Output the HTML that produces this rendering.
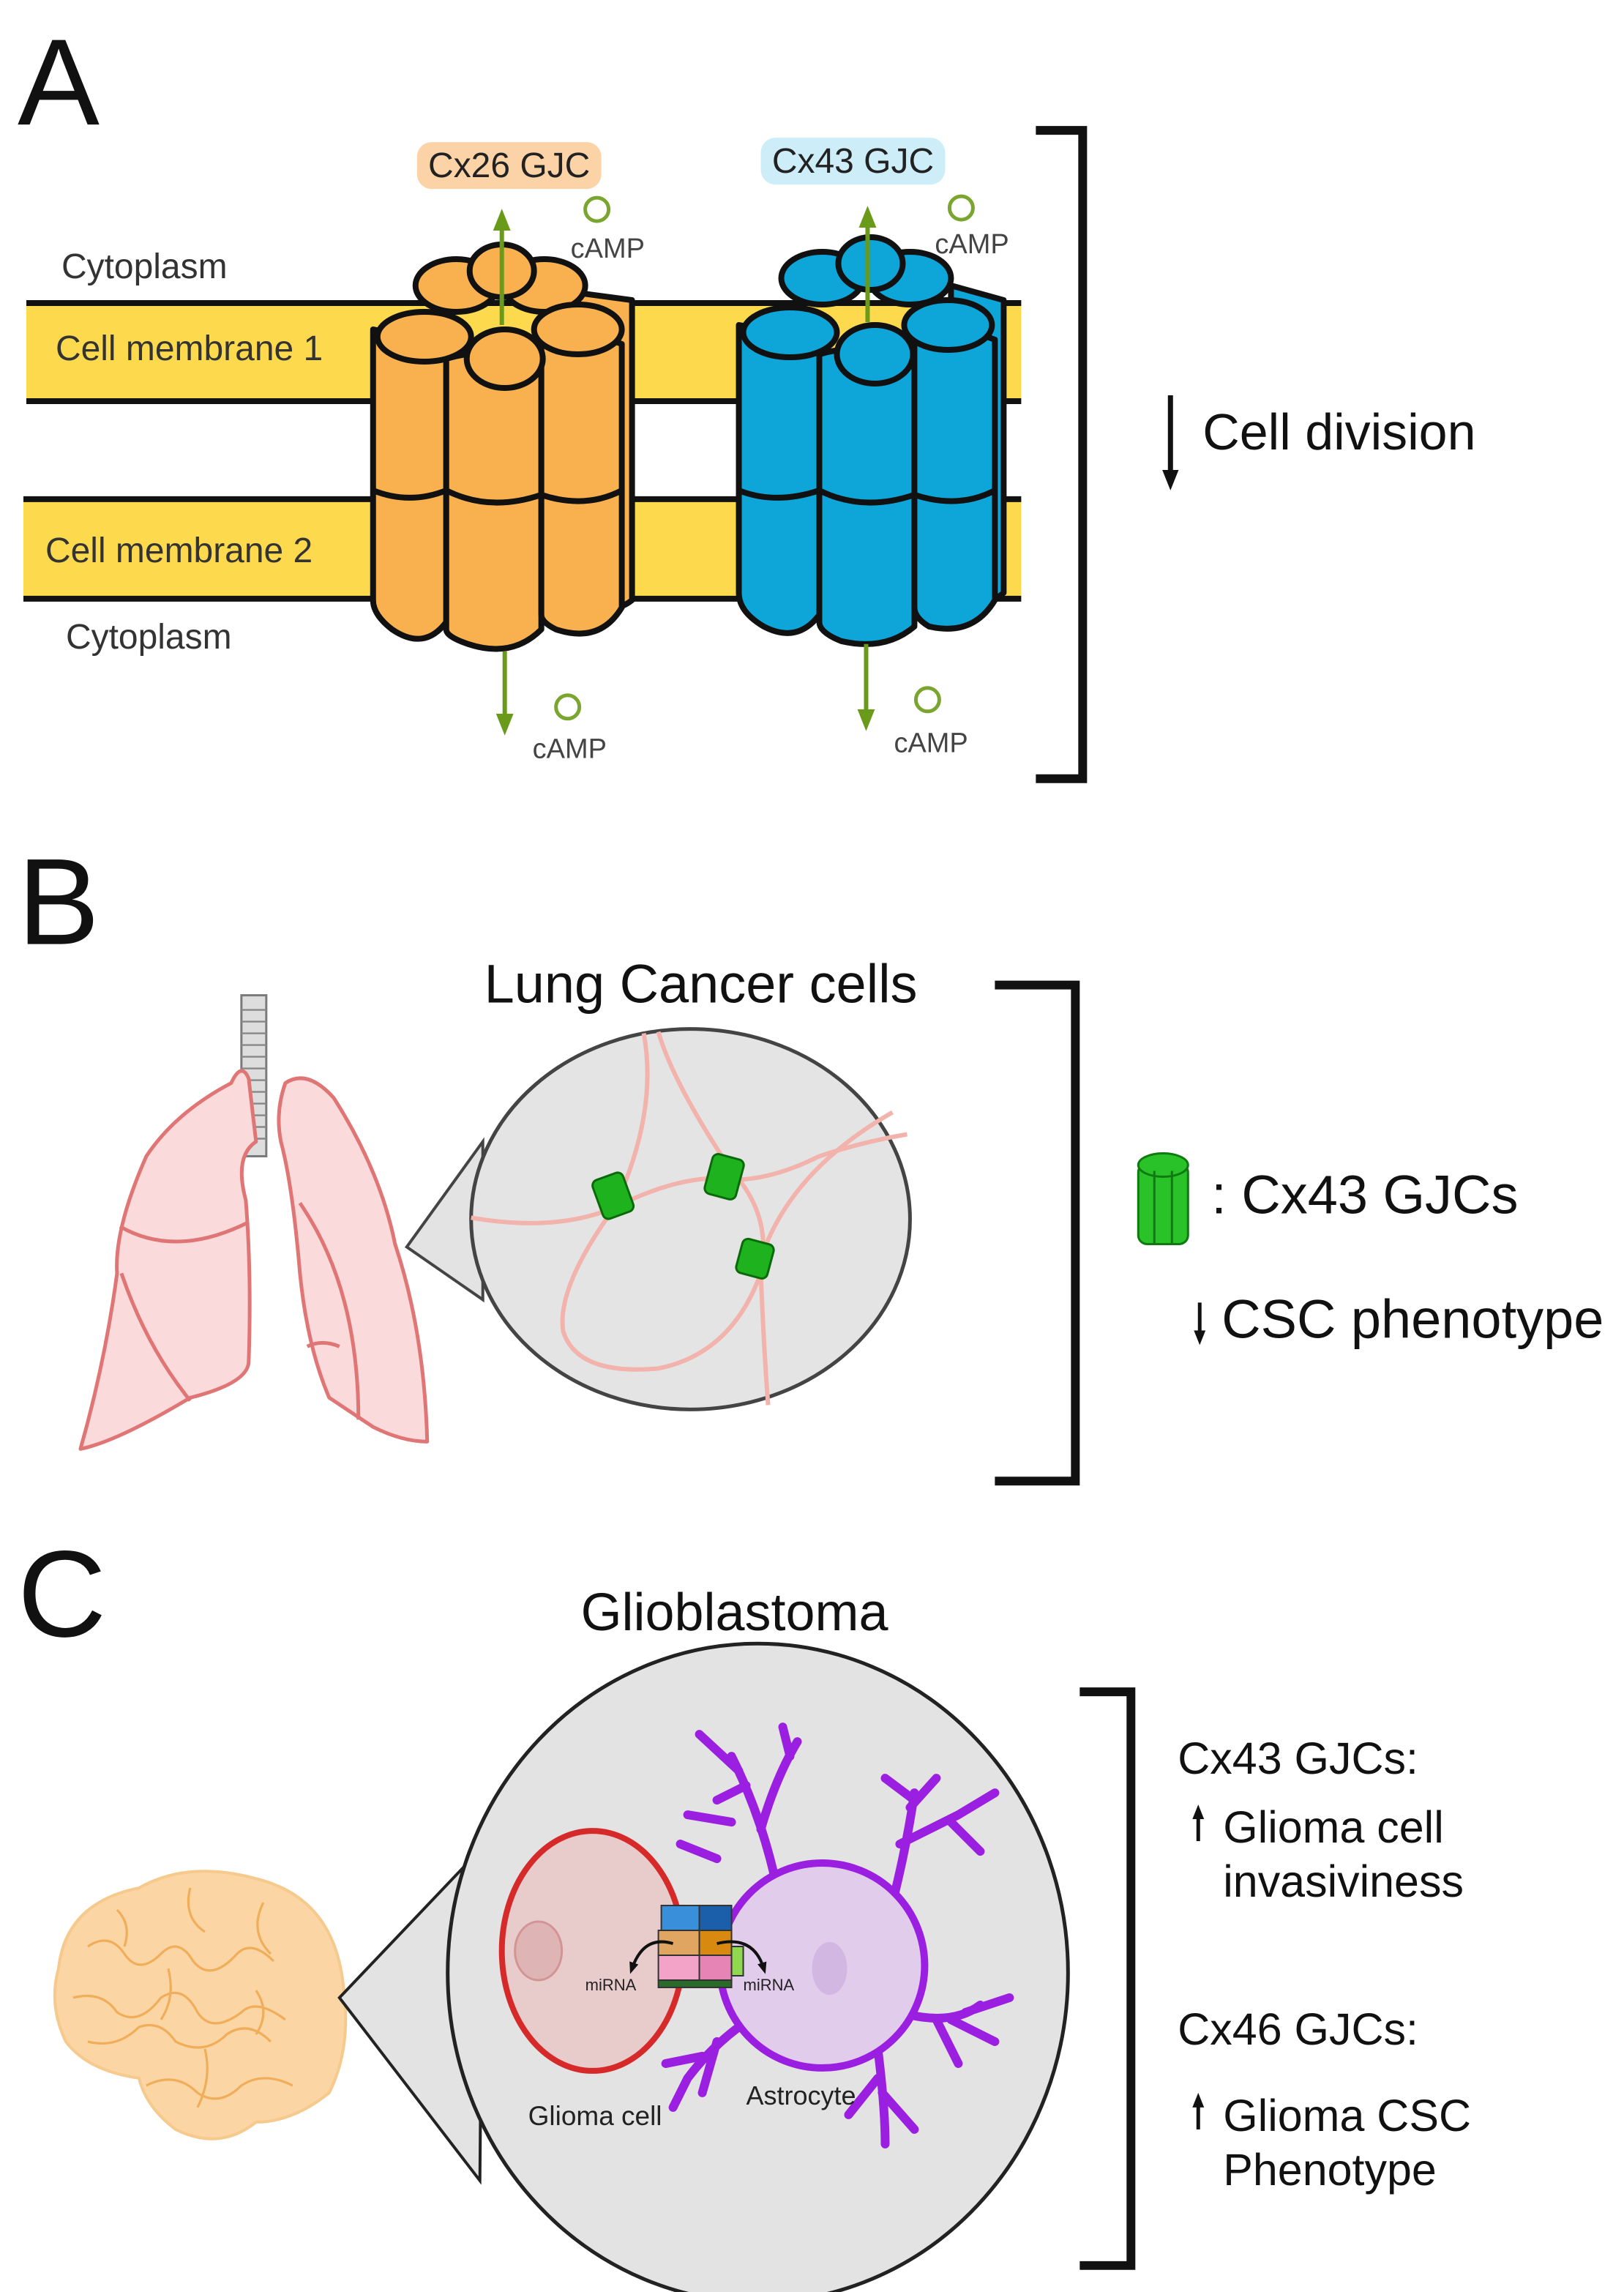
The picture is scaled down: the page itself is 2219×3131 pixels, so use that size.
<!DOCTYPE html>
<html><head><meta charset="utf-8"><style>
html,body{margin:0;padding:0;background:#fff}
svg{display:block}
text{font-family:"Liberation Sans",Arial,sans-serif}
</style></head><body>
<svg width="2219" height="3131" viewBox="0 0 1110 1566" xmlns="http://www.w3.org/2000/svg">
<defs>
<marker id="ga" viewBox="0 0 10 10" refX="5" refY="5" markerWidth="5" markerHeight="5" orient="auto"><path d="M0,1 L10,5 L0,9 Z" fill="#6a9a1a"/></marker>
<marker id="ka" viewBox="0 0 10 10" refX="5" refY="5" markerWidth="4" markerHeight="4" orient="auto"><path d="M0,1 L10,5 L0,9 Z" fill="#111"/></marker>
</defs>

<!-- PANEL A -->
<text x="12" y="85" font-size="84" fill="#111">A</text>
<rect x="18" y="207" width="680" height="67" fill="#fcd94d"/>
<line x1="18" y1="207" x2="698" y2="207" stroke="#111" stroke-width="4"/>
<line x1="18" y1="274" x2="698" y2="274" stroke="#111" stroke-width="4"/>
<rect x="16" y="341" width="682" height="68" fill="#fcd94d"/>
<line x1="16" y1="341" x2="698" y2="341" stroke="#111" stroke-width="4"/>
<line x1="16" y1="409" x2="698" y2="409" stroke="#111" stroke-width="4"/>
<text x="42" y="190" font-size="24" fill="#333">Cytoplasm</text>
<text x="38" y="246" font-size="24" fill="#333">Cell membrane 1</text>
<text x="31" y="384" font-size="24" fill="#333">Cell membrane 2</text>
<text x="45" y="443" font-size="24" fill="#333">Cytoplasm</text>

<!-- orange channel -->
<g stroke="#111" stroke-width="4" fill="#f9b150" stroke-linejoin="round">
 <path d="M395,200 L432,205 L432,410 Q420,420 395,415 Z"/>
 <path d="M255,225 L305,235 L305,425 Q290,445 268,430 Q255,420 255,410 Z"/>
 <path d="M305,245 Q340,235 370,248 L370,430 Q350,450 320,440 Q305,435 305,430 Z"/>
 <path d="M370,235 Q400,225 425,235 L425,415 Q410,440 380,430 Q370,425 370,420 Z"/>
 <path d="M255,335 Q280,345 305,335 Q335,350 370,338 Q400,348 425,335" fill="none"/>
 <ellipse cx="312" cy="195" rx="28" ry="18"/>
 <ellipse cx="372" cy="195" rx="28" ry="18"/>
 <ellipse cx="395" cy="225" rx="30" ry="17"/>
 <ellipse cx="345" cy="245" rx="26" ry="20"/>
 <ellipse cx="290" cy="230" rx="32" ry="17"/>
 <ellipse cx="343" cy="185" rx="22" ry="18"/>
</g>
<!-- blue channel -->
<g stroke="#111" stroke-width="4" fill="#0ea5d8" stroke-linejoin="round">
 <path d="M650,195 L686,205 L686,405 Q675,415 650,412 Z"/>
 <path d="M505,222 L560,232 L560,420 Q545,440 522,428 Q505,418 505,405 Z"/>
 <path d="M560,242 Q595,232 625,245 L625,428 Q605,445 575,438 Q560,432 560,425 Z"/>
 <path d="M625,232 Q655,222 680,232 L680,410 Q665,435 635,428 Q625,422 625,415 Z"/>
 <path d="M505,335 Q530,345 560,335 Q590,350 625,338 Q655,348 680,335" fill="none"/>
 <ellipse cx="562" cy="190" rx="28" ry="18"/>
 <ellipse cx="622" cy="190" rx="28" ry="18"/>
 <ellipse cx="648" cy="222" rx="30" ry="17"/>
 <ellipse cx="598" cy="242" rx="26" ry="20"/>
 <ellipse cx="540" cy="227" rx="32" ry="17"/>
 <ellipse cx="595" cy="180" rx="22" ry="18"/>
</g>
<!-- labels & arrows -->
<rect x="285" y="97" width="126" height="32" rx="10" fill="#fbd3a6"/>
<text x="348" y="121" font-size="24" text-anchor="middle" fill="#222">Cx26 GJC</text>
<rect x="520" y="94" width="126" height="32" rx="10" fill="#cdeef8"/>
<text x="583" y="118" font-size="24" text-anchor="middle" fill="#222">Cx43 GJC</text>
<g stroke="#6a9a1a" stroke-width="3">
 <line x1="343" y1="222" x2="343" y2="150" marker-end="url(#ga)"/>
 <line x1="593" y1="220" x2="593" y2="148" marker-end="url(#ga)"/>
 <line x1="345" y1="445" x2="345" y2="495" marker-end="url(#ga)"/>
 <line x1="592" y1="440" x2="592" y2="492" marker-end="url(#ga)"/>
</g>
<g fill="#fff" stroke="#7aa630" stroke-width="2.5">
 <circle cx="408" cy="143" r="8"/><circle cx="657" cy="142" r="8"/>
 <circle cx="388" cy="483" r="8"/><circle cx="634" cy="478" r="8"/>
</g>
<g font-size="19" fill="#444">
 <text x="390" y="176">cAMP</text><text x="639" y="173">cAMP</text>
 <text x="364" y="518">cAMP</text><text x="611" y="514">cAMP</text>
</g>
<path d="M708,89 L740,89 L740,532 L708,532" fill="none" stroke="#111" stroke-width="6"/>
<line x1="800" y1="270" x2="800" y2="328" stroke="#111" stroke-width="3.5" marker-end="url(#ka)"/>
<text x="822" y="307" font-size="35" fill="#111">Cell division</text>

<!-- PANEL B -->
<text x="12" y="645" font-size="84" fill="#111">B</text>
<text x="479" y="685" font-size="37" text-anchor="middle" fill="#111">Lung Cancer cells</text>
<!-- lungs -->
<rect x="165" y="680" width="17" height="110" fill="#ddd" stroke="#7a7a7a" stroke-width="1.5"/>
<g stroke="#888" stroke-width="1.2">
 <path d="M165,690 h17 M165,698 h17 M165,706 h17 M165,714 h17 M165,722 h17 M165,730 h17 M165,738 h17 M165,746 h17 M165,754 h17 M165,762 h17 M165,770 h17 M165,778 h17"/>
</g>
<g stroke="#e07575" stroke-width="2.5" fill="#fadada" stroke-linejoin="round">
 <path d="M170,737 Q165,725 158,740 Q120,760 100,790 Q78,840 80,870 Q72,930 55,990 Q80,985 130,955 Q170,945 170,930 Q172,870 168,820 Q160,790 175,780 Z"/>
 <path d="M195,740 Q210,730 228,750 Q260,800 270,850 Q290,910 292,985 Q275,985 255,975 Q240,965 225,955 Q210,920 205,870 Q200,810 192,780 Q188,760 195,740 Z"/>
 <path d="M82,838 Q120,860 170,835" fill="none"/>
 <path d="M83,870 Q100,920 130,957" fill="none"/>
 <path d="M205,822 Q245,880 245,970" fill="none"/>
 <path d="M210,920 Q220,915 232,920" fill="none"/>
</g>
<path d="M278,852 L330,780 L330,888 Z" fill="#e3e3e3" stroke="#444" stroke-width="2"/>
<ellipse cx="472" cy="833" rx="150" ry="130" fill="#e4e4e4" stroke="#444" stroke-width="2.5"/>
<g stroke="#f3b3ad" stroke-width="3" fill="none">
 <path d="M322,832 Q380,842 420,825 Q460,805 490,805 Q520,810 560,790 Q590,780 620,775"/>
 <path d="M440,706 Q450,760 420,825 Q380,880 385,910 Q395,940 450,935 Q500,925 520,870 Q528,830 500,800 Q460,740 450,705"/>
 <path d="M520,870 Q522,920 525,960"/>
 <path d="M520,860 Q540,800 610,760"/>
</g>
<g fill="#1fb21f" stroke="#0a6a0a" stroke-width="1.5">
 <rect x="408" y="803" width="22" height="28" rx="4" transform="rotate(-20 419 817)"/>
 <rect x="484" y="790" width="22" height="28" rx="4" transform="rotate(15 495 804)"/>
 <rect x="505" y="848" width="22" height="24" rx="4" transform="rotate(15 516 860)"/>
</g>
<path d="M680,673 L735,673 L735,1012 L680,1012" fill="none" stroke="#111" stroke-width="6"/>
<g fill="#29c229" stroke="#0f7a0f" stroke-width="1.5">
 <rect x="778" y="795" width="34" height="55" rx="6"/>
 <ellipse cx="795" cy="796" rx="17" ry="8"/>
 <line x1="789" y1="800" x2="789" y2="850"/><line x1="801" y1="800" x2="801" y2="850"/>
</g>
<text x="828" y="829" font-size="37" fill="#111">: Cx43 GJCs</text>
<line x1="820" y1="890" x2="820" y2="914" stroke="#111" stroke-width="2.5" marker-end="url(#ka)"/>
<text x="835" y="914" font-size="37" fill="#111">CSC phenotype</text>

<!-- PANEL C -->
<text x="12" y="1118" font-size="84" fill="#111">C</text>
<text x="502" y="1114" font-size="36" text-anchor="middle" fill="#111">Glioblastoma</text>
<!-- brain -->
<path d="M40,1345 Q45,1300 95,1290 Q130,1270 180,1285 Q230,1300 235,1360 Q240,1400 225,1430 Q200,1450 175,1450 Q150,1470 120,1455 Q100,1440 95,1420 Q60,1415 45,1395 Q33,1370 40,1345 Z" fill="#fbd5a3" stroke="#f6c98c" stroke-width="2"/>
<g stroke="#f0ad5a" stroke-width="1.6" fill="none">
 <path d="M60,1330 q15,-10 25,5 q10,15 25,0 q12,-12 22,5 q12,15 30,-5 q10,-10 25,5"/>
 <path d="M50,1365 q20,-5 30,10 q15,10 30,-10 q15,-10 25,10 q10,15 30,0 q10,-10 30,5"/>
 <path d="M60,1395 q20,5 35,-10 q15,-5 25,10 q20,10 35,-5 q15,-10 30,5"/>
 <path d="M100,1425 q20,-10 35,5 q15,10 30,-5 q15,-10 35,0"/>
 <path d="M80,1305 q10,10 5,25 M130,1290 q-5,20 10,30 M180,1300 q-10,20 5,35 M115,1345 q5,20 -5,35 M175,1360 q10,15 0,30 M140,1400 q5,20 -5,40"/>
</g>
<path d="M232,1365 L330,1262 L328,1490 Z" fill="#e3e3e3" stroke="#222" stroke-width="2"/>
<ellipse cx="518" cy="1348" rx="212" ry="225" fill="#e3e3e3" stroke="#222" stroke-width="2.5"/>
<!-- astrocyte branches -->
<g stroke="#9b1fe0" stroke-width="6" fill="none" stroke-linecap="round">
 <path d="M530,1285 Q520,1240 500,1200 M505,1210 L478,1185 M510,1220 L490,1230 M520,1250 Q530,1215 545,1190 M540,1200 L535,1180 M500,1245 L470,1240 M490,1270 L465,1260"/>
 <path d="M610,1300 Q620,1260 625,1225 M622,1235 L640,1215 M615,1260 L655,1240 M655,1240 L680,1225 M650,1245 L670,1265 M625,1230 L605,1215"/>
 <path d="M615,1375 Q650,1385 670,1370 M650,1380 L680,1395 M640,1380 L655,1410 M660,1375 L690,1365"/>
 <path d="M600,1400 Q605,1440 605,1465 M603,1430 L625,1455 M600,1420 L580,1445"/>
 <path d="M505,1385 Q485,1400 470,1420 M480,1405 L455,1410 M470,1420 L460,1440 M490,1395 L480,1430"/>
</g>
<ellipse cx="405" cy="1333" rx="62" ry="82" fill="#e8cccc" stroke="#d62a2a" stroke-width="4"/>
<ellipse cx="368" cy="1333" rx="16" ry="20" fill="#deb4b4" stroke="#d29494" stroke-width="1.5"/>
<circle cx="562" cy="1343" r="70" fill="#e1ccec" stroke="#9b1fe0" stroke-width="5"/>
<ellipse cx="567" cy="1345" rx="12" ry="18" fill="#d3b7e3"/>
<!-- gap junction cluster -->
<g stroke="#333" stroke-width="1">
 <rect x="452" y="1302" width="26" height="17" fill="#3a8fdb"/><rect x="478" y="1302" width="22" height="17" fill="#1b5fab"/>
 <rect x="450" y="1319" width="28" height="17" fill="#e0a560"/><rect x="478" y="1319" width="22" height="17" fill="#d88a10"/>
 <rect x="450" y="1336" width="28" height="17" fill="#f3a3c8"/><rect x="478" y="1336" width="22" height="17" fill="#e685b5"/>
 <rect x="500" y="1330" width="8" height="20" fill="#8fd84f"/>
 <rect x="450" y="1353" width="50" height="5" fill="#2a6a2a"/>
</g>
<g stroke="#111" stroke-width="2" fill="none">
 <path d="M460,1328 Q440,1322 432,1345" marker-end="url(#ka)"/>
 <path d="M490,1328 Q515,1322 522,1345" marker-end="url(#ka)"/>
</g>
<text x="400" y="1360" font-size="11" fill="#222">miRNA</text>
<text x="508" y="1360" font-size="11" fill="#222">miRNA</text>
<text x="361" y="1452" font-size="18.5" fill="#222">Glioma cell</text>
<text x="510" y="1438" font-size="18" fill="#222">Astrocyte</text>
<path d="M738,1156 L773,1156 L773,1548 L738,1548" fill="none" stroke="#111" stroke-width="6"/>
<g font-size="30.5" fill="#111">
 <text x="805" y="1212">Cx43 GJCs:</text>
 <text x="836" y="1259">Glioma cell</text>
 <text x="836" y="1296">invasiviness</text>
 <text x="805" y="1397">Cx46 GJCs:</text>
 <text x="836" y="1456">Glioma CSC</text>
 <text x="836" y="1493">Phenotype</text>
</g>
<line x1="819" y1="1258" x2="819" y2="1238" stroke="#111" stroke-width="2.5" marker-end="url(#ka)"/>
<line x1="819" y1="1455" x2="819" y2="1435" stroke="#111" stroke-width="2.5" marker-end="url(#ka)"/>
</svg>
</body></html>
